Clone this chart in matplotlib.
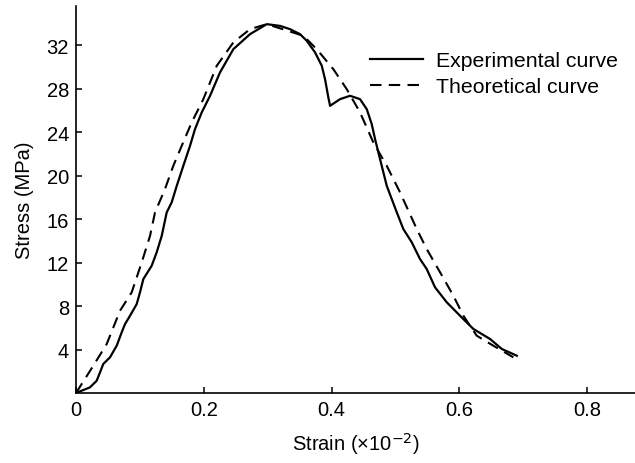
import matplotlib
matplotlib.use('Agg')
import matplotlib.pyplot as plt

plt.rcParams['font.family'] = ['Liberation Sans', 'DejaVu Sans']

# experimental curve (strain x10^-2, stress MPa)
exp_strain = [0, 0.0219, 0.0324, 0.0376, 0.0427, 0.0532, 0.0637, 0.0715, 0.0767, 0.0845,
              0.0950, 0.1002, 0.1054, 0.1185, 0.1263, 0.1342, 0.1420, 0.1498, 0.1577, 0.1680,
              0.1785, 0.1863, 0.1968, 0.2098, 0.2254, 0.2463, 0.2724, 0.2986, 0.3194, 0.3350,
              0.3507, 0.3612, 0.3742, 0.3847, 0.3898, 0.3950, 0.3977, 0.4133, 0.4290, 0.4446,
              0.4551, 0.4629, 0.4681, 0.4759, 0.4864, 0.5021, 0.5124, 0.5256, 0.5385, 0.5490,
              0.5620, 0.5804, 0.6063, 0.6220, 0.6481, 0.6665, 0.6900]
exp_stress = [0, 0.52, 1.13, 1.90, 2.67, 3.28, 4.35, 5.58, 6.34, 7.10,
              8.18, 9.26, 10.48, 11.71, 12.94, 14.46, 16.62, 17.54, 19.06, 20.90,
              22.74, 24.28, 25.81, 27.34, 29.49, 31.63, 33.01, 33.93, 33.77, 33.47,
              33.01, 32.40, 31.33, 30.10, 28.87, 27.19, 26.42, 27.03, 27.34, 27.03,
              26.11, 24.74, 23.36, 21.52, 19.06, 16.62, 15.08, 13.86, 12.32, 11.40,
              9.72, 8.34, 6.80, 5.89, 4.97, 4.05, 3.43]

# theoretical curve
th_strain = [0, 0.0271, 0.0481, 0.0689, 0.0872, 0.1029, 0.1159, 0.1237, 0.1393, 0.1523,
             0.1655, 0.1811, 0.1993, 0.2203, 0.2463, 0.2724, 0.2986, 0.3559, 0.3768, 0.4028,
             0.4238, 0.4446, 0.4654, 0.4864, 0.5072, 0.5334, 0.5490, 0.5699, 0.5907, 0.6063,
             0.6273, 0.6533, 0.6846]
th_stress = [0, 2.51, 4.51, 7.57, 9.26, 12.02, 14.46, 16.62, 18.76, 20.90,
             22.74, 24.89, 27.03, 30.10, 32.25, 33.47, 33.93, 32.86, 31.63, 29.79,
             27.95, 25.81, 23.05, 20.90, 18.46, 15.08, 13.24, 11.10, 8.95, 7.11,
             5.27, 4.35, 3.28]

x_ticks = [0, 0.2, 0.4, 0.6, 0.8]
x_ticklabels = ['0', '0.2', '0.4', '0.6', '0.8']
y_ticks = [4, 8, 12, 16, 20, 24, 28, 32]

fig = plt.figure(figsize=(6.35, 4.64), dpi=100)
ax = fig.add_axes([76 / 635, 70 / 464, 559 / 635, 387 / 464])

ax.plot(exp_strain, exp_stress, color='black', lw=1.6, label='Experimental curve',
        solid_joinstyle='round')
ax.plot(th_strain, th_stress, color='black', lw=1.5, dashes=(5.5, 3.5), label='Theoretical curve')

ax.set_xlim(0, 0.875)
ax.set_ylim(0, 35.6)
ax.set_xticks(x_ticks)
ax.set_xticklabels(x_ticklabels)
ax.set_yticks(y_ticks)
ax.tick_params(direction='in', length=4, width=1.1, labelsize=14.5, pad=5)
for s in ['top', 'right']:
    ax.spines[s].set_visible(False)
for s in ['left', 'bottom']:
    ax.spines[s].set_linewidth(1.2)

ax.set_xlabel('Strain (\u00d710$^{-2}$)', fontsize=14.5, labelpad=8)
ax.set_ylabel('Stress (MPa)', fontsize=14.5, labelpad=9)

ax.legend(loc='upper left', bbox_to_anchor=(370 / 635, 1 - 52 / 464),
          bbox_transform=fig.transFigure, frameon=False, fontsize=15.3,
          handlelength=2.5, handletextpad=0.6, borderpad=0, borderaxespad=0,
          labelspacing=0.35)

fig.savefig('out.png', dpi=100)
